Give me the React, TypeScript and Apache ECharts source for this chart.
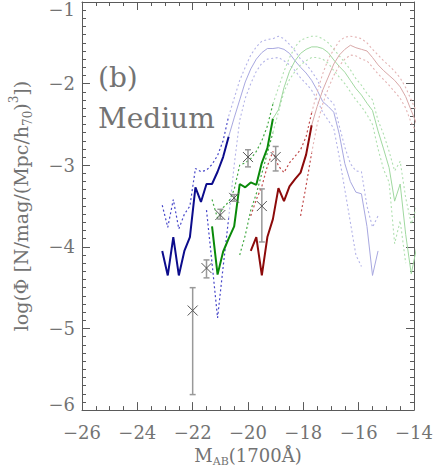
import React, { useEffect, useRef } from "react";
import * as echarts from "echarts";

// ---- data ----
const xTicks = [-26, -24, -22, -20, -18, -16, -14];
const yTicks = [-6, -5, -4, -3, -2, -1];

const blueMag = [-23.1,-22.9,-22.7,-22.5,-22.3,-22.1,-21.9,-21.7,-21.5,-21.3,-21.1,-20.9,-20.7,-20.5,-20.3,-20.1,-19.9,-19.7,-19.5,-19.3,-19.1,-18.9,-18.7,-18.5,-18.3,-18.1,-17.9,-17.7,-17.5,-17.3,-17.1,-16.9,-16.7,-16.5,-16.3,-16.1,-15.9,-15.7,-15.5,-15.3];
const blueLF = [-4.05,-4.35,-3.88,-4.35,-4.05,-3.88,-3.27,-3.45,-3.23,-3.23,-3.08,-2.90,-2.65,-2.42,-2.20,-1.98,-1.82,-1.70,-1.62,-1.57,-1.57,-1.56,-1.58,-1.63,-1.72,-1.80,-1.87,-1.96,-2.08,-2.22,-2.28,-2.35,-2.62,-2.98,-3.20,-3.33,-3.35,-3.75,-4.35,-4.05];
const blueHi = [-3.49,-3.76,-3.42,-3.78,-3.60,-3.50,-3.04,-3.08,-3.06,-2.99,-2.88,-2.70,-2.40,-2.18,-1.96,-1.80,-1.65,-1.55,-1.48,-1.46,-1.45,-1.42,-1.45,-1.52,-1.60,-1.70,-1.76,-1.85,-1.95,-2.10,-2.18,-2.25,-2.52,-2.78,-2.98,-3.07,-3.08,-3.50,-3.76,-3.62];
const blueLo = [null,null,null,null,null,null,null,null,-3.55,-4.20,-4.87,-4.25,-3.65,-3.00,-2.45,-2.18,-2.00,-1.85,-1.75,-1.70,-1.69,-1.68,-1.72,-1.77,-1.84,-1.93,-2.00,-2.08,-2.20,-2.35,-2.45,-2.55,-2.90,-3.30,-3.70,-4.10,-4.24,null,null,null];
const blueSplit = -20.7;

const greenMag = [-21.3,-21.1,-20.9,-20.7,-20.5,-20.3,-20.1,-19.9,-19.7,-19.5,-19.3,-19.1,-18.9,-18.7,-18.5,-18.3,-18.1,-17.9,-17.7,-17.5,-17.3,-17.1,-16.9,-16.7,-16.5,-16.3,-16.1,-15.9,-15.7,-15.5,-15.3,-15.1,-14.9,-14.7,-14.5,-14.3,-14.1,-13.9];
const greenLF = [-3.75,-4.34,-4.06,-3.90,-3.75,-3.23,-3.27,-3.21,-3.24,-2.97,-2.79,-2.43,-2.32,-2.05,-1.85,-1.72,-1.63,-1.58,-1.55,-1.55,-1.57,-1.62,-1.71,-1.79,-1.86,-1.96,-2.06,-2.14,-2.24,-2.33,-2.58,-2.80,-3.03,-3.44,-3.23,-3.85,-4.33,-4.0];
const greenHi = [-3.42,-3.65,-3.52,-3.45,-3.30,-3.00,-2.97,-2.92,-2.83,-2.70,-2.52,-2.25,-2.05,-1.85,-1.68,-1.55,-1.47,-1.44,-1.42,-1.42,-1.45,-1.50,-1.58,-1.66,-1.74,-1.83,-1.94,-2.02,-2.12,-2.20,-2.45,-2.62,-2.83,-3.07,-2.95,-3.40,-3.72,-3.5];
const greenLo = [null,null,null,null,null,-4.10,-3.86,-3.55,-3.35,-3.10,-2.85,-2.60,-2.35,-2.10,-1.95,-1.85,-1.77,-1.72,-1.68,-1.68,-1.70,-1.75,-1.84,-1.92,-2.00,-2.10,-2.20,-2.28,-2.38,-2.50,-2.80,-3.05,-3.21,-3.96,-3.68,-4.20,null,null];
const greenSplit = -19.1;

const redMag = [-19.9,-19.7,-19.5,-19.3,-19.1,-18.9,-18.7,-18.5,-18.3,-18.1,-17.9,-17.7,-17.5,-17.3,-17.1,-16.9,-16.7,-16.5,-16.3,-16.1,-15.9,-15.7,-15.5,-15.3,-15.1,-14.9,-14.7,-14.5,-14.3,-14.1,-13.9];
const redLF = [-4.05,-3.88,-4.35,-3.88,-3.66,-3.28,-3.44,-3.26,-3.17,-3.09,-2.87,-2.51,-2.28,-2.08,-1.92,-1.76,-1.65,-1.58,-1.53,-1.56,-1.58,-1.60,-1.68,-1.77,-1.84,-1.90,-1.96,-2.04,-2.16,-2.33,-2.5];
const redHi = [-3.62,-3.42,-3.26,-3.01,-2.83,-3.01,-3.09,-2.97,-2.89,-2.81,-2.65,-2.36,-2.10,-1.88,-1.70,-1.58,-1.48,-1.43,-1.42,-1.43,-1.45,-1.50,-1.58,-1.65,-1.72,-1.78,-1.85,-1.93,-2.05,-2.20,-2.35];
const redLo = [null,null,null,null,null,null,null,null,null,-3.62,-3.25,-2.85,-2.50,-2.25,-2.06,-1.90,-1.78,-1.70,-1.65,-1.66,-1.70,-1.72,-1.80,-1.88,-1.95,-2.02,-2.10,-2.18,-2.30,-2.48,-2.6];
const redSplit = -17.7;

const obsMag = [-22.0, -21.5, -21.0, -20.5, -20.0, -19.5, -19.0];
const obsLF = [-4.78, -4.26, -3.61, -3.40, -2.90, -3.50, -2.90];
const obsHi = [-4.50, -4.16, -3.54, -3.36, -2.81, -3.29, -2.77];
const obsLo = [-5.81, -4.38, -3.66, -3.44, -3.02, -3.94, -3.07];

const FONT = "DejaVu Serif";
const TXT = "#737373";
const AX = "#5a5a5a";

function pick(mag: number[], vals: (number | null)[], lo: number, hi: number) {
  const out: number[][] = [];
  for (let i = 0; i < mag.length; i++) {
    const v = vals[i];
    if (v === null || v === undefined) continue;
    if (mag[i] >= lo - 1e-9 && mag[i] <= hi + 1e-9) out.push([mag[i], v]);
  }
  return out;
}

function lineSeries(data: number[][], color: string, width: number, dotted: boolean, z: number) {
  return {
    type: "line",
    data,
    xAxisIndex: 0,
    yAxisIndex: 0,
    showSymbol: false,
    symbol: "none",
    clip: true,
    z,
    lineStyle: { color, width, type: dotted ? [2, 2.5] : "solid" },
    emphasis: { disabled: true },
  };
}

function group(mag: number[], lf: number[], hi: (number | null)[], lo: (number | null)[], split: number,
  dark: string, darkDot: string, faint: string, faintDot: string) {
  return [
    lineSeries(pick(mag, hi, -99, split), darkDot, 1.2, true, 3),
    lineSeries(pick(mag, hi, split, 99), faintDot, 1.1, true, 2),
    lineSeries(pick(mag, lo, -99, split), darkDot, 1.2, true, 3),
    lineSeries(pick(mag, lo, split, 99), faintDot, 1.1, true, 2),
    lineSeries(pick(mag, lf, split, 99), faint, 1, false, 2),
    lineSeries(pick(mag, lf, -99, split), dark, 2, false, 4),
  ];
}

const minus = (v: number) => (v < 0 ? "\u2212" + Math.abs(v) : String(v));

export default function App() {
  const ref = useRef<HTMLDivElement>(null);
  useEffect(() => {
    if (!ref.current) return;
    const chart = echarts.init(ref.current, undefined, { renderer: "svg" });
    const labelBase = { fontFamily: FONT, fontSize: 18, color: TXT };
    const frameAxis = (extra: any) => ({
      type: "value",
      axisLine: { show: true, onZero: false, lineStyle: { color: AX, width: 1 } },
      axisTick: { show: true, inside: true, length: 8, lineStyle: { color: AX } },
      minorTick: { show: true, length: 4, lineStyle: { color: AX } },
      splitLine: { show: false },
      ...extra,
    });
    const option: any = {
      animation: false,
      grid: { left: 69, right: 21, top: 1, bottom: 59, containLabel: false },
      xAxis: [
        frameAxis({
          position: "bottom",
          min: xTicks[0],
          max: xTicks[xTicks.length - 1],
          interval: 2,
          minorTick: { show: true, splitNumber: 4, length: 4, lineStyle: { color: AX } },
          axisLabel: { ...labelBase, margin: 13, formatter: (v: number) => minus(v) },
          name: "{n|M}{s|AB}{n|(1700\u00C5)}",
          nameLocation: "middle",
          nameGap: 27,
          nameTextStyle: {
            ...labelBase,
            rich: {
              n: { fontFamily: FONT, fontSize: 18, color: TXT, lineHeight: 24 },
              s: { fontFamily: FONT, fontSize: 11, color: TXT, verticalAlign: "bottom", lineHeight: 14 },
            },
          },
        }),
        frameAxis({
          position: "top",
          min: xTicks[0],
          max: xTicks[xTicks.length - 1],
          interval: 2,
          minorTick: { show: true, splitNumber: 4, length: 4, lineStyle: { color: AX } },
          axisLabel: { show: false },
        }),
      ],
      yAxis: [
        frameAxis({
          position: "left",
          min: yTicks[0],
          max: yTicks[yTicks.length - 1],
          interval: 1,
          minorTick: { show: true, splitNumber: 10, length: 4, lineStyle: { color: AX } },
          axisLabel: {
            ...labelBase,
            margin: 7,
            formatter: (v: number) => {
              const s = minus(v);
              if (v === yTicks[yTicks.length - 1]) return "{t|" + s + "}";
              if (v === yTicks[0]) return "{b|" + s + "}";
              return s;
            },
            rich: {
              t: { fontFamily: FONT, fontSize: 18, color: TXT, padding: [14, 0, 0, 0] },
              b: { fontFamily: FONT, fontSize: 18, color: TXT, padding: [0, 0, 12, 0] },
            },
          },
          name: "{n|log(\u03A6 [N/mag/(Mpc/h}{s|70}{n|)}{p|3}{n|])}",
          nameLocation: "middle",
          nameGap: 48,
          nameTextStyle: {
            ...labelBase,
            rich: {
              n: { fontFamily: FONT, fontSize: 19, color: TXT, lineHeight: 26 },
              s: { fontFamily: FONT, fontSize: 12, color: TXT, verticalAlign: "bottom", lineHeight: 13 },
              p: { fontFamily: FONT, fontSize: 12, color: TXT, verticalAlign: "top", lineHeight: 13 },
            },
          },
        }),
        frameAxis({
          position: "right",
          min: yTicks[0],
          max: yTicks[yTicks.length - 1],
          interval: 1,
          minorTick: { show: true, splitNumber: 10, length: 4, lineStyle: { color: AX } },
          axisLabel: { show: false },
        }),
      ],
      graphic: [
        { type: "text", x: 98, y: 77, style: { text: "(b)", fontFamily: FONT, fontSize: 28, fill: TXT, verticalAlign: "middle" } },
        { type: "text", x: 98, y: 118, style: { text: "Medium", fontFamily: FONT, fontSize: 28, fill: TXT, verticalAlign: "middle" } },
      ],
      series: [
        ...group(blueMag, blueLF, blueHi, blueLo, blueSplit, "#0c0c8c", "#4545c8", "#a8a8e0", "#b4b4e8"),
        ...group(greenMag, greenLF, greenHi, greenLo, greenSplit, "#0a8a0a", "#45aa45", "#a0d8a0", "#b0e0b0"),
        ...group(redMag, redLF, redHi, redLo, redSplit, "#8c0a0a", "#c04a4a", "#d8a8a8", "#e4b4b4"),
        {
          type: "custom",
          xAxisIndex: 0,
          yAxisIndex: 0,
          z: 6,
          data: obsMag.map((m, i) => [m, obsLF[i], obsHi[i], obsLo[i]]),
          encode: { x: 0, y: 1 },
          renderItem: (_p: any, api: any) => {
            const x = api.value(0);
            const c = api.coord([x, api.value(1)]);
            const h = api.coord([x, api.value(2)]);
            const l = api.coord([x, api.value(3)]);
            const bar = { stroke: "#999", lineWidth: 1.5 };
            const mk = { stroke: "#555", lineWidth: 1 };
            const cap = 3, s = 5;
            return {
              type: "group",
              children: [
                { type: "line", shape: { x1: h[0], y1: h[1], x2: l[0], y2: l[1] }, style: bar },
                { type: "line", shape: { x1: h[0] - cap, y1: h[1], x2: h[0] + cap, y2: h[1] }, style: bar },
                { type: "line", shape: { x1: l[0] - cap, y1: l[1], x2: l[0] + cap, y2: l[1] }, style: bar },
                { type: "line", shape: { x1: c[0] - s, y1: c[1] - s, x2: c[0] + s, y2: c[1] + s }, style: mk },
                { type: "line", shape: { x1: c[0] - s, y1: c[1] + s, x2: c[0] + s, y2: c[1] - s }, style: mk },
              ],
            };
          },
        },
      ],
    };
    chart.setOption(option);
    return () => chart.dispose();
  }, []);
  return <div ref={ref} style={{ position: "absolute", left: 0, top: 0, width: 436, height: 472, background: "#fff" }} />;
}
